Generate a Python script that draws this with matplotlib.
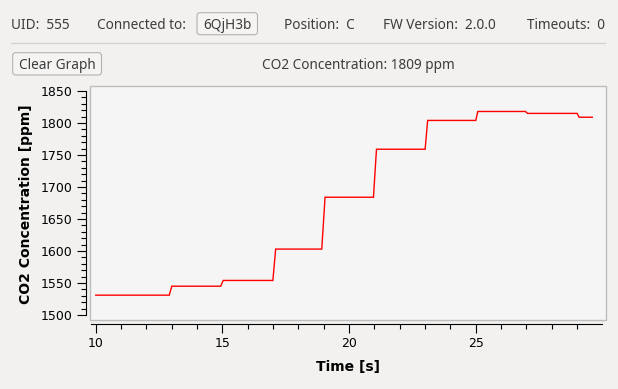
import matplotlib
matplotlib.use('Agg')
import matplotlib.pyplot as plt
from matplotlib.patches import FancyBboxPatch, Rectangle
from matplotlib.ticker import FixedLocator

# ---- data ----
time_s = [10.0, 12.90, 13.00, 14.93, 15.03, 16.99, 17.10, 18.92, 19.05,
          20.96, 21.08, 23.00, 23.10, 25.00, 25.08, 26.96, 27.04, 29.00,
          29.08, 29.60]
co2_ppm = [1531, 1531, 1545, 1545, 1554, 1554, 1603, 1603, 1684, 1684,
           1759, 1759, 1804, 1804, 1818, 1818, 1815, 1815, 1809, 1809]
x_major = [10, 15, 20, 25]
x_minor = list(range(10, 30))
y_major = [1500, 1550, 1600, 1650, 1700, 1750, 1800, 1850]
y_minor = list(range(1500, 1851, 10))

uid = "555"
connected_to = "6QjH3b"
position = "C"
fw_version = "2.0.0"
timeouts = "0"
current_ppm = 1809

W, H = 618, 389
BG = '#f2f1f0'
TXT = '#3c3c3c'
UI_FONT = ['Noto Sans', 'DejaVu Sans']

fig = plt.figure(figsize=(W / 100, H / 100), dpi=100, facecolor=BG)

# pixel-coordinate overlay for the UI part
bg = fig.add_axes([0, 0, 1, 1])
bg.set_xlim(0, W)
bg.set_ylim(H, 0)
bg.axis('off')


def button(x0, y0, x1, y1, label, baseline):
    p = FancyBboxPatch((x0, y0), x1 - x0, y1 - y0,
                       boxstyle='round,pad=0,rounding_size=3',
                       facecolor='#f5f4f3', edgecolor='#b4b2ad', lw=0.8)
    bg.add_patch(p)
    bg.text((x0 + x1) / 2, baseline, label, ha='center', va='baseline',
            fontsize=9.8, color=TXT, family=UI_FONT)


top_base = 29
bg.text(11, top_base, f"UID:  {uid}", ha='left', va='baseline', fontsize=9.8,
        color=TXT, family=UI_FONT)
bg.text(97, top_base, "Connected to:", ha='left', va='baseline', fontsize=9.8,
        color=TXT, family=UI_FONT)
button(197, 12.7, 257.5, 34.7, connected_to, top_base)
bg.text(284, top_base, f"Position:  {position}", ha='left', va='baseline',
        fontsize=9.8, color=TXT, family=UI_FONT)
bg.text(383, top_base, f"FW Version:  {fw_version}", ha='left', va='baseline',
        fontsize=9.8, color=TXT, family=UI_FONT)
bg.text(605, top_base, f"Timeouts:  {timeouts}", ha='right', va='baseline',
        fontsize=9.8, color=TXT, family=UI_FONT)
bg.plot([11, 605], [42.5, 42.5], color='#d2d1ce', lw=0.9)

button(12.7, 52.7, 101.5, 75, "Clear Graph", 68.5)
bg.text(358, 68.5, f"CO2 Concentration: {current_ppm} ppm", ha='center',
        va='baseline', fontsize=9.8, color=TXT, family=UI_FONT)

# ---- the plot ----
ax = fig.add_axes([90 / W, (H - 320) / H, 516 / W, 234 / H])
ax.set_facecolor('#f5f5f5')
ax.plot(time_s, co2_ppm, color='#ff0000', lw=1.0, solid_joinstyle='miter')
ax.set_xlim(9.771, 30.14)
ax.set_ylim(1492.2, 1857.8)
for s in ['top', 'right']:
    ax.spines[s].set_visible(False)
for s in ['left', 'bottom']:
    ax.spines[s].set_position(('outward', 4 * 0.72))
    ax.spines[s].set_linewidth(0.8)
    ax.spines[s].set_color('black')
ax.spines['left'].set_bounds(1500, 1850)
ax.spines['bottom'].set_bounds(9.81, 29.98)
ax.add_patch(Rectangle((0, 0), 1, 1, transform=ax.transAxes, fill=False,
                       edgecolor='#bdbdbd', lw=1.0, clip_on=False))

ax.xaxis.set_major_locator(FixedLocator(x_major))
ax.xaxis.set_minor_locator(FixedLocator(x_minor))
ax.yaxis.set_major_locator(FixedLocator(y_major))
ax.yaxis.set_minor_locator(FixedLocator(y_minor))
ax.set_xticklabels([str(v) for v in x_major])
ax.set_yticklabels([str(v) for v in y_major])
ax.tick_params(which='major', length=6.5, width=0.8, direction='out',
               pad=3, labelsize=9, colors='black')
ax.tick_params(which='minor', length=3.6, width=0.8, direction='out')
for lab in ax.get_xticklabels() + ax.get_yticklabels():
    lab.set_family('DejaVu Sans')

bg.text(26, 203.7, "CO2 Concentration [ppm]", rotation=90, ha='center',
        va='center', fontsize=10, fontweight='bold', color='black',
        family='DejaVu Sans')
bg.text(348, 367, "Time [s]", ha='center', va='center', fontsize=10,
        fontweight='bold', color='black', family='DejaVu Sans')

fig.savefig('out.png', dpi=100, facecolor=BG)
